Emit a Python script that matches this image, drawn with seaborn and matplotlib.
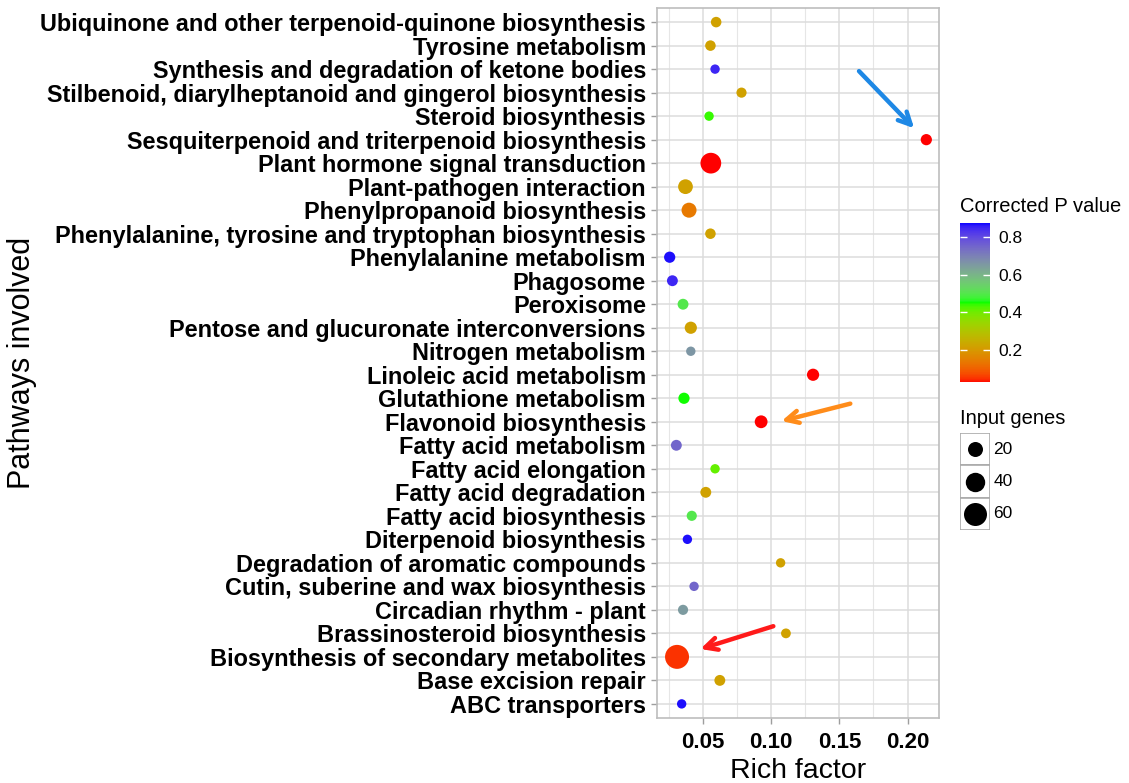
import numpy as np
import pandas as pd
import matplotlib
matplotlib.use("Agg")
import matplotlib.pyplot as plt
from matplotlib.colors import ListedColormap, Normalize
from matplotlib.cm import ScalarMappable
from matplotlib.patches import Rectangle
import seaborn as sns

pathways = [
    "Ubiquinone and other terpenoid-quinone biosynthesis",
    "Tyrosine metabolism",
    "Synthesis and degradation of ketone bodies",
    "Stilbenoid, diarylheptanoid and gingerol biosynthesis",
    "Steroid biosynthesis",
    "Sesquiterpenoid and triterpenoid biosynthesis",
    "Plant hormone signal transduction",
    "Plant-pathogen interaction",
    "Phenylpropanoid biosynthesis",
    "Phenylalanine, tyrosine and tryptophan biosynthesis",
    "Phenylalanine metabolism",
    "Phagosome",
    "Peroxisome",
    "Pentose and glucuronate interconversions",
    "Nitrogen metabolism",
    "Linoleic acid metabolism",
    "Glutathione metabolism",
    "Flavonoid biosynthesis",
    "Fatty acid metabolism",
    "Fatty acid elongation",
    "Fatty acid degradation",
    "Fatty acid biosynthesis",
    "Diterpenoid biosynthesis",
    "Degradation of aromatic compounds",
    "Cutin, suberine and wax biosynthesis",
    "Circadian rhythm - plant",
    "Brassinosteroid biosynthesis",
    "Biosynthesis of secondary metabolites",
    "Base excision repair",
    "ABC transporters",
]
rich_factor = [0.0596, 0.0554, 0.0588, 0.0782, 0.0544, 0.2138, 0.0557, 0.0371,
               0.0397, 0.0554, 0.0255, 0.0275, 0.0353, 0.0410, 0.0410, 0.1307,
               0.0360, 0.0926, 0.0304, 0.0588, 0.0520, 0.0417, 0.0385, 0.1069,
               0.0434, 0.0353, 0.1108, 0.0309, 0.0623, 0.0343]
input_genes = [5, 5, 2, 4, 2, 7, 47, 19, 20, 5, 7, 6, 6, 10, 2, 10,
               7, 12, 6, 2, 6, 4, 2, 2, 2, 4, 3, 66, 6, 2]
p_value = [0.22, 0.22, 0.85, 0.22, 0.44, 0.03, 0.03, 0.22, 0.14, 0.22,
           0.87, 0.85, 0.50, 0.22, 0.66, 0.03, 0.45, 0.03, 0.75, 0.41,
           0.22, 0.50, 0.87, 0.22, 0.75, 0.65, 0.22, 0.05, 0.22, 0.87]
p_limits = (0.028, 0.878)
size_legend = [20, 40, 60]
x_ticks = [0.05, 0.10, 0.15, 0.20]

df = pd.DataFrame({"Pathway": pathways, "Rich factor": rich_factor,
                   "Input genes": input_genes, "P": p_value})

# Lab-space gradient red -> green -> blue (like ggplot gradientn)
_M = np.array([[0.4124, 0.3576, 0.1805], [0.2126, 0.7152, 0.0722], [0.0193, 0.1192, 0.9505]])
_WP = np.array([0.95047, 1.0, 1.08883])

def srgb_to_lab(rgb):
    rgb = np.asarray(rgb, float)
    lin = np.where(rgb <= 0.04045, rgb / 12.92, ((rgb + 0.055) / 1.055) ** 2.4)
    xyz = (lin @ _M.T) / _WP
    f = np.where(xyz > (6/29)**3, np.cbrt(xyz), xyz / (3*(6/29)**2) + 4/29)
    return np.stack([116*f[..., 1] - 16, 500*(f[..., 0] - f[..., 1]), 200*(f[..., 1] - f[..., 2])], -1)

def lab_to_srgb(lab):
    L, a, b = lab[..., 0], lab[..., 1], lab[..., 2]
    fy = (L + 16) / 116
    f = np.stack([fy + a / 500, fy, fy - b / 200], -1)
    xyz = np.where(f > 6/29, f**3, 3*(6/29)**2*(f - 4/29)) * _WP
    lin = np.clip(xyz @ np.linalg.inv(_M).T, 0, 1)
    rgb = np.where(lin <= 0.0031308, lin*12.92, 1.055*lin**(1/2.4) - 0.055)
    return np.clip(rgb, 0, 1)

stops = srgb_to_lab([[1, 0, 0], [0, 1, 0], [0, 0, 1]])
t = np.linspace(0, 1, 256)
labs = np.empty((256, 3))
for i, tt in enumerate(t):
    if tt <= 0.5:
        u = tt / 0.5
        labs[i] = stops[0]*(1-u) + stops[1]*u
    else:
        u = (tt - 0.5) / 0.5
        labs[i] = stops[1]*(1-u) + stops[2]*u
cmap = ListedColormap(lab_to_srgb(labs))
norm = Normalize(*p_limits)

plt.rcParams["font.family"] = ["Liberation Sans", "DejaVu Sans"]
fig = plt.figure(figsize=(11.29, 7.83), dpi=100)
W, H = 1129, 783
ax = fig.add_axes([657 / W, 1 - 718 / H, (939 - 657) / W, (718 - 8) / H])

smin, smax = 37.8, 313.6
sns.scatterplot(data=df, x="Rich factor", y="Pathway", hue="P", size="Input genes",
                palette=cmap, hue_norm=p_limits, sizes=(smin, smax), size_norm=(0, 70),
                linewidth=0, alpha=1, legend=False, ax=ax, zorder=3)

ax.set_ylim(len(pathways) - 1 + 0.6, -0.6)
ax.set_xlim(0.0162, 0.2231)
ax.set_xticks(x_ticks)
ax.set_xticklabels([f"{v:.2f}" for v in x_ticks])
ax.set_xticks([0.025, 0.075, 0.125, 0.175], minor=True)
ax.grid(True, which="major", color="#DCDCDC", lw=1.1, zorder=0)
ax.grid(True, which="minor", axis="x", color="#E6E6E6", lw=0.8, zorder=0)
ax.set_axisbelow(True)
for s in ax.spines.values():
    s.set_color("#BDBDBD")
    s.set_linewidth(1.2)
ax.tick_params(axis="both", which="major", color="#9E9E9E", length=4, width=1)
ax.tick_params(axis="x", which="minor", length=0)
for lab in ax.get_yticklabels():
    lab.set_fontweight("bold")
    lab.set_fontsize(16.9)
for lab in ax.get_xticklabels():
    lab.set_fontweight("bold")
    lab.set_fontsize(16)
ax.tick_params(axis="y", pad=4)
ax.tick_params(axis="x", pad=6)
ax.set_xlabel("Rich factor", fontsize=20.5)
ax.set_ylabel("Pathways involved", fontsize=22)
ax.xaxis.set_label_coords(0.5, -0.056)
ax.yaxis.set_label_coords(-2.2, 0.5)

# annotation arrows
ax.annotate("", xy=(0.2063, 4.6), xytext=(0.163, 2.0),
            arrowprops=dict(arrowstyle="->", color="#1E88E5", lw=3.2, mutation_scale=22))
ax.annotate("", xy=(0.1056, 17.0), xytext=(0.160, 16.2),
            arrowprops=dict(arrowstyle="->", color="#FF8C1A", lw=3.2, mutation_scale=22))
ax.annotate("", xy=(0.0461, 26.7), xytext=(0.1035, 25.66),
            arrowprops=dict(arrowstyle="->", color="#FF1A1A", lw=3.2, mutation_scale=22))

# colorbar
cax = fig.add_axes([960 / W, 1 - 382.3 / H, 30 / W, (382.3 - 222.7) / H])
cb = fig.colorbar(ScalarMappable(norm=norm, cmap=cmap), cax=cax, ticks=[0.2, 0.4, 0.6, 0.8])
cb.outline.set_visible(False)
cb.ax.tick_params(which="both", direction="in", color="white", length=5, width=1,
                  left=True, right=True, labelsize=12.5, pad=6)
cb.ax.set_yticklabels(["0.2", "0.4", "0.6", "0.8"])
fig.text(960 / W, 1 - 207 / H, "Corrected P value", fontsize=14.5, va="center", ha="left")

# size legend
fig.text(960 / W, 1 - 418 / H, "Input genes", fontsize=14.5, va="center", ha="left")
lax = fig.add_axes([960 / W, 1 - 530 / H, 30 / W, (530 - 433) / H])
lax.set_xlim(0, 1)
lax.set_ylim(3, 0)
lax.axis("off")
for i, g in enumerate(size_legend):
    lax.add_patch(Rectangle((0, i), 1, 1, facecolor="white", edgecolor="#AAAAAA", lw=1.2))
    s = smin + (smax - smin) * g / 70
    lax.scatter([0.5], [i + 0.5], s=s, color="black", linewidth=0, zorder=3)
    lax.text(1.12, i + 0.5, str(g), fontsize=12.5, va="center", ha="left")

fig.savefig("out.png", dpi=100, facecolor="white")
